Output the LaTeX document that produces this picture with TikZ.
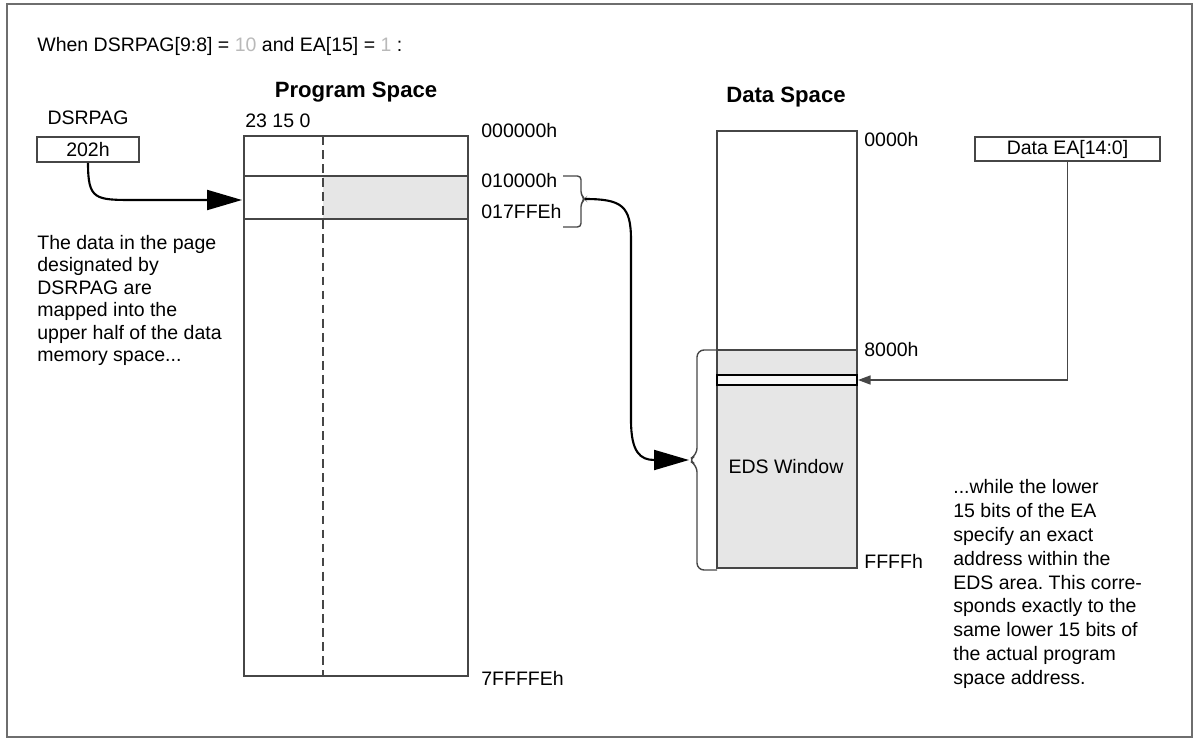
\documentclass[tikz,border=0pt]{standalone}
\usepackage{fontspec}
\setmainfont{Liberation Sans}
\usepackage{tikz}
\usetikzlibrary{arrows.meta,positioning,calc}
\definecolor{frameGray}{RGB}{110,110,110}
\definecolor{lineGray}{RGB}{70,70,70}
\definecolor{fillGray}{RGB}{230,230,230}
\definecolor{fadeGray}{RGB}{185,185,185}

\tikzset{
  txt/.style={font=\fontsize{11.1}{12.8}\selectfont, inner sep=0pt},
  ttl/.style={font=\fontsize{12.6}{14}\selectfont\bfseries, inner sep=0pt},
  regbox/.style={draw=lineGray, line width=0.9pt, inner sep=0pt, font=\fontsize{11.1}{12.8}\selectfont},
  memline/.style={draw=lineGray, line width=0.9pt},
  bigptr/.style={-{Triangle[length=0.7cm,width=0.4cm]}, line width=1.2pt},
  smallptr/.style={-{Triangle[length=0.25cm,width=0.18cm]}, line width=0.8pt, lineGray}
}

\begin{document}
\frenchspacing
\begin{tikzpicture}[x=0.02cm,y=-0.02cm]
        \useasboundingbox (0,0) rectangle (1196,740);
        % frame
        \draw[frameGray, line width=1.1pt] (7,4) rectangle (1192,737);
        \node[txt, anchor=west] (cond) at (37,46)
          {When DSRPAG[9:8] = {\color{fadeGray}10} and EA[15] = {\color{fadeGray}1} :};
        % program space
        \fill[fillGray] (323,176) rectangle (468,219);
        \draw[memline] (244,136) rectangle (468,676);
        \draw[memline] (244,176) -- (468,176);
        \draw[memline] (244,219) -- (468,219);
        \draw[lineGray, dash pattern=on 5pt off 3pt, line width=0.7pt] (323,136) -- (323,676);
        \node[ttl] (pstitle) at (356,92) {Program Space};
        \node[txt, anchor=west] (bits) at (245,121) {23 15 0};
        \node[txt, anchor=west] (a0) at (481,131) {000000h};
        \node[txt, anchor=west] (a1) at (481,181) {010000h};
        \node[txt, anchor=west] (a2) at (481,212) {017FFEh};
        \node[txt, anchor=west] (a3) at (481,678) {7FFFFEh};
        \draw[lineGray, line width=0.8pt, rounded corners=2pt]
          (563,176) -- (581,176) -- (581,195) -- (585,199) -- (581,203) -- (581,227) -- (563,227);
        \coordinate (psbrace) at (585,199);
        \coordinate (psin) at (242,200);
        % DSRPAG register
        \node[regbox, minimum width=2.04cm, minimum height=0.5cm] (dsrbox) at (88,149.5) {202h};
        \node[txt] (dsrlbl) at (88,118) {DSRPAG};
        \draw[bigptr] (dsrbox.south) .. controls (88,200) and (95,200) .. (135,200) -- (psin);
        \node[txt, anchor=north west, align=left] (lefttxt) at (37,235)
          {The data in the page\\designated by\\DSRPAG are\\mapped into the\\upper half of the data\\memory space...};
        % data space
        \fill[fillGray] (717,350) rectangle (857,568);
        \draw[memline] (717,131) rectangle (857,568);
        \draw[memline] (717,350) -- (857,350);
        \draw[black, line width=1.3pt, fill=white!70!fillGray] (717,375) rectangle (857,385);
        \node[ttl] (dstitle) at (786,97) {Data Space};
        \node[txt, anchor=west] (d0) at (864,140) {0000h};
        \node[txt, anchor=west] (d1) at (864,350) {8000h};
        \node[txt, anchor=west] (d2) at (864,561) {FFFFh};
        \node[txt] (eds) at (786,467) {EDS Window};
        \draw[lineGray, line width=0.8pt, rounded corners=4pt]
          (717,350) -- (697,350) -- (697,455) -- (688,460) -- (697,465) -- (697,570) -- (717,570);
        \coordinate (edsbrace) at (689,460);
        \draw[bigptr] (psbrace) .. controls (622,199) and (631,206) .. (631,240)
          -- (631,420) .. controls (631,452) and (640,460) .. (edsbrace);
        % effective address
        \node[regbox, minimum width=3.7cm, minimum height=0.48cm] (eabox) at (1067.5,149) {Data EA[14:0]};
        \coordinate (winptr) at (858,380);
        \draw[smallptr] (eabox.south) |- (winptr);
        \node[txt, anchor=north west, align=left, font=\fontsize{11.1}{13.6}\selectfont] (righttxt) at (953,479)
          {...while the lower\\15 bits of the EA\\specify an exact\\address within the\\EDS area. This corre-\\sponds exactly to the\\same lower 15 bits of\\the actual program\\space address.};
\end{tikzpicture}
\end{document}
